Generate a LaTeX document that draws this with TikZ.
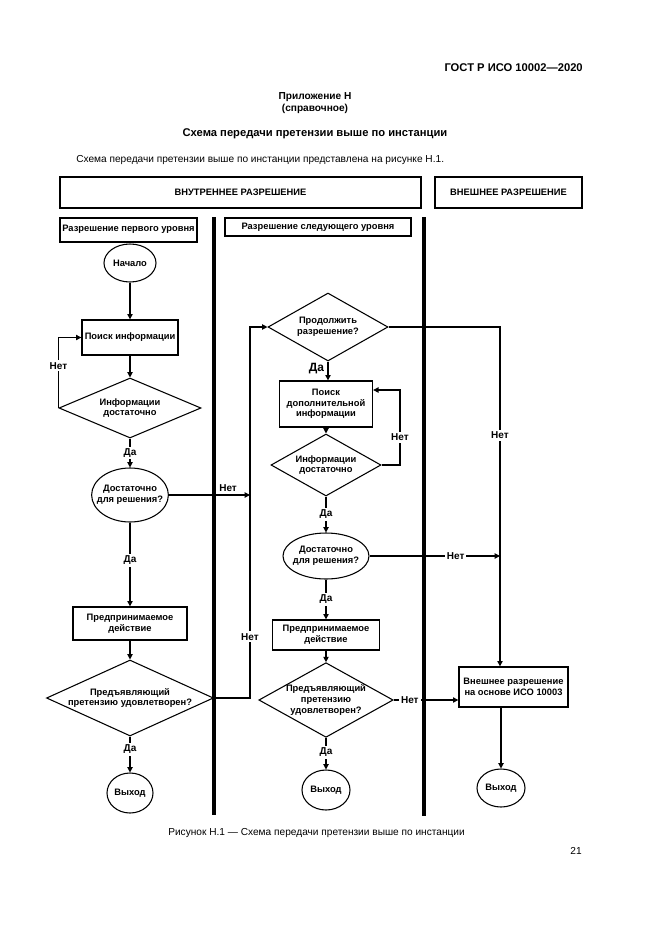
\documentclass[tikz,border=0pt]{standalone}
\usepackage{fontspec}
\setmainfont{Liberation Sans}
\usetikzlibrary{shapes.geometric,arrows.meta}
\begin{document}
\begin{tikzpicture}[x=0.75pt,y=-0.75pt,
  sz/.style 2 args={minimum width=#1*0.75pt, minimum height=#2*0.75pt},
  ftxt/.style={font=\bfseries\fontsize{7}{8}\selectfont, align=center, inner sep=0pt},
  rbox/.style={ftxt, draw, line width=1pt, rectangle},
  ell/.style={ftxt, draw, line width=0.8pt, ellipse, inner xsep=-4.5pt},
  dia/.style={ftxt, draw, line width=0.8pt, diamond},
  hbox/.style={ftxt, draw, line width=1.5pt},
  lane/.style={line width=3pt},
  con/.style={line width=0.8pt},
  arr/.style={con, -{Triangle[length=4pt,width=4pt]}},
  lab/.style={font=\bfseries\fontsize{7.5}{8}\selectfont, fill=white, inner sep=1.5pt},
  ptxt/.style={inner sep=0pt, font=\fontsize{7.6}{9}\selectfont},
  btxt/.style={inner sep=0pt, font=\bfseries\fontsize{7.6}{9}\selectfont},
]
\useasboundingbox[fill=white] (0,0) rectangle (661,935);

% page texts
\node[btxt, anchor=east, font=\bfseries\fontsize{8.4}{10}\selectfont] (gost) at (583,68) {ГОСТ Р ИСО 10002—2020};
\node[btxt] (app) at (315,97) {Приложение Н};
\node[btxt] (ref) at (315,109) {(справочное)};
\node[btxt, font=\bfseries\fontsize{8.4}{10}\selectfont] (title) at (315,134) {Схема передачи претензии выше по инстанции};
\node[ptxt, anchor=west] (body) at (76,160) {Схема передачи претензии выше по инстанции представлена на рисунке Н.1.};
\node[ptxt, anchor=west] (cap) at (168,833) {Рисунок Н.1 — Схема передачи претензии выше по инстанции};
\node[ptxt, anchor=east] (pnum) at (582,851) {21};

% headers
\node[hbox, sz={361}{31}] (hint) at (240.5,192.5) {ВНУТРЕННЕЕ РАЗРЕШЕНИЕ};
\node[hbox, sz={147}{31}] (hext) at (508.5,192.5) {ВНЕШНЕЕ РАЗРЕШЕНИЕ};
\node[hbox, sz={137}{24}] (lev1) at (128.5,229.5) {Разрешение первого уровня};
\node[hbox, sz={186}{18}] (lev2) at (318,227) {Разрешение следующего уровня};

% lanes
\draw[lane] (214,217) -- (214,815);
\draw[lane] (424,217) -- (424,816);

% column 1
\node[ell, sz={52}{38}] (start) at (130,263) {Начало};
\node[rbox, sz={96}{35}] (search1) at (130,337.5) {Поиск информации};
\node[dia, sz={142}{60}, aspect=2.37] (enough1) at (130,408) {Информации\\достаточно};
\node[ell, sz={76}{54}] (solve1) at (130,495) {Достаточно\\для решения?};
\node[rbox, sz={114}{33}] (act1) at (130,623.5) {Предпринимаемое\\действие};
\node[dia, sz={166}{76}, aspect=2.2] (sat1) at (130,698) {Предъявляющий\\претензию удовлетворен?};
\node[ell, sz={46}{40}] (exit1) at (130,793) {Выход};

% column 2
\node[dia, sz={120}{68}, aspect=1.76] (cont) at (328,327) {Продолжить\\разрешение?};
\node[rbox, sz={93}{46}] (search2) at (326,404) {Поиск\\дополнительной\\информации};
\node[dia, sz={110}{62}, aspect=1.77] (enough2) at (326,465) {Информации\\достаточно};
\node[ell, sz={86}{46}] (solve2) at (326,556) {Достаточно\\для решения?};
\node[rbox, sz={107}{30}] (act2) at (326,635) {Предпринимаемое\\действие};
\node[dia, sz={134}{74}, aspect=1.8] (sat2) at (326,700) {Предъявляющий\\претензию\\удовлетворен?};
\node[ell, sz={48}{40}] (exit2) at (326,790) {Выход};

% column 3
\node[rbox, sz={109}{40}] (ext) at (513.5,687) {Внешнее разрешение\\на основе ИСО 10003};
\node[ell, sz={48}{38}] (exit3) at (501,788) {Выход};

% helper coordinates
\coordinate (vbot) at (250,698);
\coordinate (vtop) at (250,327);
\coordinate (j1) at (250,495);
\coordinate (rtop) at (500,327);
\coordinate (j2) at (500,556);
\coordinate (l2a) at (400,465);
\coordinate (l2b) at (400,390);

% connectors column 1
\draw[arr] (start.south) -- (search1.north);
\draw[arr] (search1.south) -- (enough1.north);
\draw[arr] (enough1.west) |- node[lab, pos=0.3] {Нет} (search1.west);
\draw[arr] (enough1.south) -- node[lab] {Да} (solve1.north);
\draw[arr] (solve1.east) -- node[lab, pos=0.73, above=1pt, fill=none] {Нет} (j1);
\draw[arr] (solve1.south) -- node[lab, pos=0.45] {Да} (act1.north);
\draw[arr] (act1.south) -- (sat1.north);
\draw[arr] (sat1.east) -- (vbot) -- node[lab, pos=0.165] {Нет} (vtop) -- (cont.west);
\draw[arr] (sat1.south) -- node[lab, pos=0.35] {Да} (exit1.north);

% connectors column 2
\draw[arr] (cont.south) -- node[lab, pos=0.4, left=1pt, fill=none, font=\bfseries\fontsize{9}{10}\selectfont] {Да} (cont.south |- search2.north);
\draw[arr] (search2.south) -- (enough2.north);
\draw[arr] (enough2.east) -- (l2a) -- node[lab, pos=0.37] {Нет} (l2b) -- (search2.east |- l2b);
\draw[arr] (enough2.south) -- node[lab] {Да} (solve2.north);
\draw[arr] (solve2.east) -- node[lab, pos=0.66] {Нет} (j2);
\draw[arr] (solve2.south) -- node[lab, pos=0.5] {Да} (act2.north);
\draw[arr] (act2.south) -- (sat2.north);
\draw[arr] (sat2.east) -- node[lab, pos=0.25] {Нет} (sat2.east -| ext.west);
\draw[arr] (sat2.south) -- node[lab, pos=0.45] {Да} (exit2.north);

% connectors column 3
\draw[arr] (cont.east) -- (rtop) -- node[lab, pos=0.32] {Нет} (rtop |- ext.north);
\draw[arr] (exit3.north |- ext.south) -- (exit3.north);
\end{tikzpicture}
\end{document}
